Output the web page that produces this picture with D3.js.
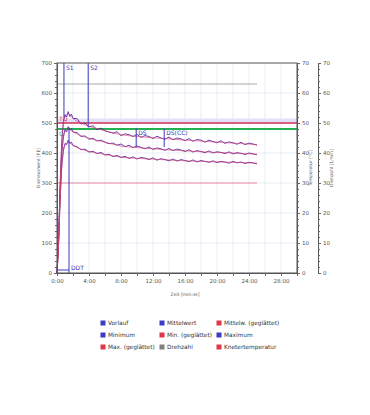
<!DOCTYPE html>
<html>
<head>
<meta charset="utf-8">
<script src="https://cdn.jsdelivr.net/npm/d3@7"></script>
<style>
  body { margin: 0; background: #fff; }
  svg text { font-family: "DejaVu Sans", Verdana, sans-serif; }
</style>
</head>
<body>
<svg id="chart" width="370" height="415"></svg>
<script>
/****** Data *******/
const minutes = [0, 0.2, 0.4, 0.6, 0.8, 1.0, 1.2, 1.4, 1.6, 1.8, 2.0,
  2.5, 3, 3.5, 4, 4.5, 5, 5.5, 6, 6.5, 7, 7.5, 8, 8.5, 9, 9.5, 10, 10.5, 11, 11.5, 12,
  12.5, 13, 13.5, 14, 14.5, 15, 15.5, 16, 16.5, 17, 17.5, 18, 18.5, 19, 19.5, 20,
  20.5, 21, 21.5, 22, 22.5, 23, 23.5, 24, 24.5, 25];
const maxRaw = [0, 120, 300, 440, 505, 528, 520, 538, 522, 530, 515,
  515, 497, 500, 487, 491, 478, 483, 474, 470, 466, 471, 458, 464, 461, 455, 462, 452, 458, 455, 448,
  456, 450, 446, 453, 444, 450, 447, 441, 448, 439, 445, 443, 436, 443, 438, 434,
  441, 432, 437, 434, 429, 436, 428, 433, 430, 426];
const meanRaw = [0, 110, 280, 400, 455, 478, 470, 488, 476, 482, 470,
  468, 455, 457, 446, 449, 440, 443, 436, 431, 433, 426, 430, 421, 426, 418, 423, 419, 414, 420, 412,
  417, 414, 409, 415, 408, 413, 410, 405, 411, 403, 408, 405, 401, 407, 400, 404,
  402, 398, 404, 397, 401, 399, 395, 400, 397, 394];
const minRaw = [0, 100, 250, 360, 410, 432, 428, 443, 432, 436, 425,
  421, 411, 413, 403, 406, 398, 402, 393, 396, 388, 392, 385, 389, 382, 387, 380, 385, 383, 378, 384,
  376, 381, 378, 374, 380, 373, 378, 375, 371, 377, 370, 375, 372, 369, 374, 368,
  372, 370, 366, 372, 367, 370, 365, 369, 367, 364];

const smoothMinutes = [0, 0.2, 0.4, 0.6, 0.8, 1.0, 1.4, 2, 3, 4, 6, 8, 10, 13, 16, 19, 22, 25];
const maxSmooth = [0, 115, 295, 435, 500, 522, 530, 515, 500, 489, 474, 461, 455, 449, 443, 438, 433, 428];
const meanSmooth = [0, 105, 275, 395, 450, 472, 480, 470, 458, 449, 436, 423, 418, 412, 407, 403, 400, 396];
const minSmooth = [0, 95, 245, 355, 405, 427, 436, 425, 413, 405, 395, 386, 382, 378, 374, 371, 369, 366];

const vorlaufMinutes = [0, 1.5];
const vorlaufValues = [10, 10];

const markerNames = ["S1", "S2", "DDT", "DS", "DS(CC)"];
const markerMinutes = [0.87, 3.9, 1.5, 9.9, 13.4];
const markerTop = [700, 700, 485, 482, 482];
const markerBottom = [520, 485, 0, 420, 420];

const tqValue = 500, tqBandTop = 515, cValue = 480;
const drehzahlValue = 63, knetTempValue = 30, refEndMinute = 25;

const legendNames = ["Vorlauf", "Mittelwert", "Mittelw. (geglättet)",
  "Minimum", "Min. (geglättet)", "Maximum",
  "Max. (geglättet)", "Drehzahl", "Knetertemperatur"];
const legendColors = ["#3b3bc8", "#3b3bc8", "#e0344a",
  "#3b3bc8", "#e0344a", "#3b3bc8",
  "#e0344a", "#808080", "#e0344a"];

/****** Chart *******/
var svg = d3.select("#chart");
var pLeft = 57, pRight = 297, pTop = 63, pBottom = 273;

var x = d3.scaleLinear().domain([0, 30]).range([pLeft, pRight]);
var y = d3.scaleLinear().domain([0, 700]).range([pBottom, pTop]);
var yr = d3.scaleLinear().domain([0, 70]).range([pBottom, pTop]);

// grid
svg.append("g").selectAll("line").data(d3.range(2, 30, 2)).enter().append("line")
    .attr("x1", d => x(d)).attr("x2", d => x(d))
    .attr("y1", pTop).attr("y2", pBottom)
    .attr("stroke", "#e6e8f0").attr("stroke-width", 0.8);
svg.append("g").selectAll("line").data(d3.range(100, 700, 100)).enter().append("line")
    .attr("x1", pLeft).attr("x2", pRight)
    .attr("y1", d => y(d)).attr("y2", d => y(d))
    .attr("stroke", "#e6e8f0").attr("stroke-width", 0.8);

// reference lines
svg.append("rect")
    .attr("x", pLeft).attr("width", pRight - pLeft)
    .attr("y", y(tqBandTop)).attr("height", y(tqValue) - y(tqBandTop))
    .attr("fill", "#dfe2f8");
svg.append("line")
    .attr("x1", x(0)).attr("x2", x(refEndMinute))
    .attr("y1", yr(drehzahlValue)).attr("y2", yr(drehzahlValue))
    .attr("stroke", "#a8a8a8").attr("stroke-width", 1);
svg.append("line")
    .attr("x1", x(0)).attr("x2", x(refEndMinute))
    .attr("y1", yr(knetTempValue)).attr("y2", yr(knetTempValue))
    .attr("stroke", "#e88aa0").attr("stroke-width", 1);
svg.append("line")
    .attr("x1", pLeft).attr("x2", pRight)
    .attr("y1", y(tqValue)).attr("y2", y(tqValue))
    .attr("stroke", "#d8305a").attr("stroke-width", 1.5);
svg.append("line")
    .attr("x1", pLeft).attr("x2", pRight)
    .attr("y1", y(cValue)).attr("y2", y(cValue))
    .attr("stroke", "#22b050").attr("stroke-width", 2);
svg.append("text").attr("x", pLeft + 2).attr("y", y(tqValue) - 2)
    .attr("font-size", 6).attr("fill", "#d8305a").text("TQ");
svg.append("text").attr("x", pLeft + 2).attr("y", y(cValue) + 7)
    .attr("font-size", 6).attr("fill", "#22a050").text("C");

// curves
var rawLine = d3.line()
    .x(function (d, i) { return x(minutes[i]); })
    .y(function (d) { return y(d); });
var smoothLine = d3.line()
    .x(function (d, i) { return x(smoothMinutes[i]); })
    .y(function (d) { return y(d); })
    .curve(d3.curveMonotoneX);

[maxRaw, meanRaw, minRaw].forEach(function (s) {
    svg.append("path").datum(s)
        .attr("fill", "none").attr("stroke", "#5a2aa8")
        .attr("stroke-width", 0.9).attr("d", rawLine);
});
[maxSmooth, meanSmooth, minSmooth].forEach(function (s) {
    svg.append("path").datum(s)
        .attr("fill", "none").attr("stroke", "#d8406a")
        .attr("stroke-opacity", 0.75)
        .attr("stroke-width", 0.8).attr("d", smoothLine);
});

// Vorlauf
svg.append("path")
    .datum(vorlaufValues)
    .attr("fill", "none").attr("stroke", "#3b3bc8").attr("stroke-width", 1)
    .attr("d", d3.line().x((d, i) => x(vorlaufMinutes[i])).y(d => y(d)));

// markers
var mk = svg.append("g");
markerNames.forEach(function (name, i) {
    var mx = x(markerMinutes[i]);
    mk.append("line")
        .attr("x1", mx).attr("x2", mx)
        .attr("y1", y(markerTop[i])).attr("y2", y(markerBottom[i]))
        .attr("stroke", "#3a3ab8").attr("stroke-width", 1);
    var ty = name === "DDT" ? y(0) - 3 : y(markerTop[i]) + 7;
    mk.append("text")
        .attr("x", mx + 2).attr("y", ty)
        .attr("font-size", 6).attr("fill", "#3a3ab8").text(name);
});

// frame
svg.append("rect")
    .attr("x", pLeft).attr("y", pTop)
    .attr("width", pRight - pLeft).attr("height", pBottom - pTop)
    .attr("fill", "none").attr("stroke", "#555").attr("stroke-width", 1);

// axes
var fmt = d => d + ":00";
var xAxis = svg.append("g")
    .attr("transform", "translate(0," + pBottom + ")")
    .call(d3.axisBottom(x).tickValues(d3.range(0, 31, 2)).tickSize(3).tickFormat(d => d % 4 === 0 && d < 30 ? fmt(d) : ""));
var yAxis = svg.append("g")
    .attr("transform", "translate(" + pLeft + ",0)")
    .call(d3.axisLeft(y).tickValues(d3.range(0, 701, 20)).tickSize(2).tickFormat(d => d % 100 === 0 ? d : ""));
var r1Axis = svg.append("g")
    .attr("transform", "translate(" + pRight + ",0)")
    .call(d3.axisRight(yr).tickValues(d3.range(0, 71, 2)).tickSize(2).tickFormat(d => d % 10 === 0 ? d : ""));
var r2Axis = svg.append("g")
    .attr("transform", "translate(318,0)")
    .call(d3.axisRight(yr).tickValues(d3.range(0, 71, 2)).tickSize(2).tickFormat(d => d % 10 === 0 ? d : ""));

[xAxis, yAxis, r1Axis, r2Axis].forEach(function (a) {
    a.select(".domain").attr("stroke", "#555");
    a.selectAll(".tick line").attr("stroke", "#666");
    a.selectAll(".tick text").attr("font-size", 5.5).attr("fill", "#555");
});
yAxis.selectAll(".tick").filter(d => d % 100 === 0).select("line").attr("x2", -3);
r1Axis.selectAll(".tick").filter(d => d % 10 === 0).select("line").attr("x2", 3);
r2Axis.selectAll(".tick").filter(d => d % 10 === 0).select("line").attr("x2", 3);

// axis titles
svg.append("text").attr("x", (pLeft + pRight) / 2 + 8).attr("y", 296)
    .attr("text-anchor", "middle").attr("font-size", 4.5).attr("fill", "#555")
    .text("Zeit [mm:ss]");
svg.append("text").attr("transform", "translate(40," + (pTop + pBottom) / 2 + ") rotate(-90)")
    .attr("text-anchor", "middle").attr("font-size", 4.5).attr("fill", "#555")
    .text("Drehmoment [FE]");
svg.append("text").attr("transform", "translate(312," + (pTop + pBottom) / 2 + ") rotate(-90)")
    .attr("text-anchor", "middle").attr("font-size", 4.5).attr("fill", "#555")
    .text("Temperatur [°C]");
svg.append("text").attr("transform", "translate(333," + (pTop + pBottom) / 2 + ") rotate(-90)")
    .attr("text-anchor", "middle").attr("font-size", 4.5).attr("fill", "#555")
    .text("Drehzahl [1/min]");

// legend
var colX = [103, 162, 219], rowY = [323, 335, 347];
var lg = svg.append("g");
legendNames.forEach(function (name, i) {
    var lx = colX[i % 3], ly = rowY[Math.floor(i / 3)];
    lg.append("rect").attr("x", lx - 2.5).attr("y", ly - 2.5)
        .attr("width", 5).attr("height", 5).attr("fill", legendColors[i]);
    lg.append("text").attr("x", lx + 5).attr("y", ly + 2)
        .attr("font-size", 5.8).attr("fill", "#333").text(name);
});
</script>
</body>
</html>
